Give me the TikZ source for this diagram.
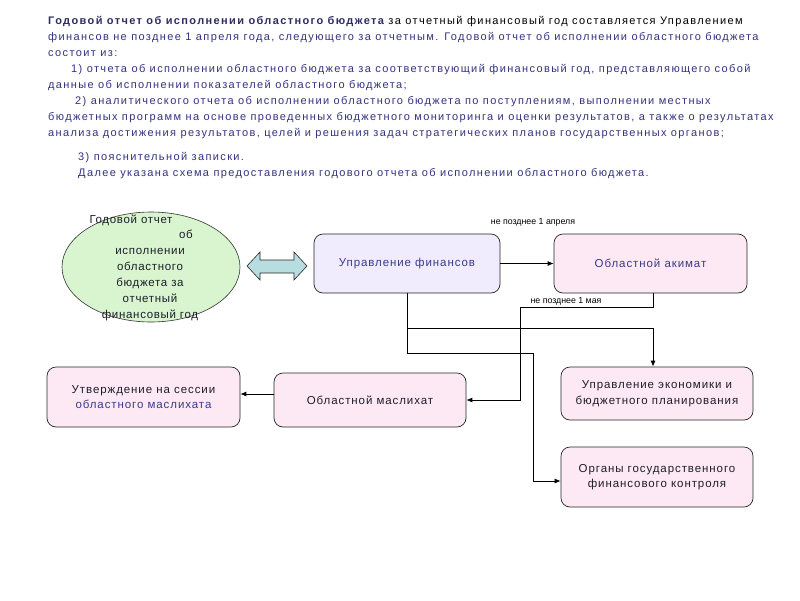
\documentclass[tikz,border=0pt]{standalone}
\usepackage{fontspec}
\setmainfont{Liberation Sans}
\newfontfamily\lsfont[LetterSpace=6]{Liberation Sans}
\newfontfamily\hdrfont[LetterSpace=12.5]{Liberation Sans}
\newfontfamily\boxfont[LetterSpace=8]{Liberation Sans}
\usetikzlibrary{shapes.geometric,arrows.meta}
\definecolor{navy}{RGB}{51,51,130}
\definecolor{navyb}{RGB}{45,45,100}
\definecolor{txtdark}{RGB}{30,30,40}
\definecolor{ellfill}{RGB}{216,245,208}
\definecolor{arrfill}{RGB}{184,221,224}
\definecolor{lav}{RGB}{240,235,253}
\definecolor{pinkf}{RGB}{253,233,243}
\definecolor{boxtxt}{RGB}{58,58,140}
\begin{document}
\begin{tikzpicture}[x=1pt,y=-1pt,
  hdr/.style={anchor=base west, inner sep=0pt, text=navy, font=\hdrfont\fontsize{11}{12}\selectfont},
  box/.style={draw=black!85, line width=0.7pt, rounded corners=9pt, align=center, inner sep=0pt,
    font=\boxfont\fontsize{11.5}{15.5}\selectfont, text=txtdark},
  conn/.style={draw=black, line width=0.8pt},
  arr/.style={conn, -{Latex[length=6pt,width=5pt]}},
  lbl/.style={inner sep=0pt, font=\fontsize{8.8}{10}\selectfont, text=black},
  elltxt/.style={inner sep=0pt, anchor=base, text=txtdark, font=\lsfont\fontsize{11.5}{13}\selectfont}
]
\useasboundingbox (0,0) rectangle (800,600);
\fill[white] (0,0) rectangle (800,600);

% header text
\node[hdr] (h1) at (48,24) {\textbf{\color{navyb}Годовой отчет об исполнении областного бюджета} \color{black}за отчетный финансовый год составляется Управлением};
\node[hdr] (h2) at (48,40) {финансов не позднее 1 апреля года, следующего за отчетным. Годовой отчет об исполнении областного бюджета};
\node[hdr] (h3) at (48,56) {состоит из:};
\node[hdr] (h4) at (71,72) {1) отчета об исполнении областного бюджета за соответствующий финансовый год, представляющего собой};
\node[hdr] (h5) at (48,88) {данные об исполнении показателей областного бюджета;};
\node[hdr] (h6) at (75,104) {2) аналитического отчета об исполнении областного бюджета по поступлениям, выполнении местных};
\node[hdr] (h7) at (48,120) {бюджетных программ на основе проведенных бюджетного мониторинга и оценки результатов, а также о результатах};
\node[hdr] (h8) at (48,136) {анализа достижения результатов, целей и решения задач стратегических планов государственных органов;};
\node[hdr] (h9) at (78,160) {3) пояснительной записки.};
\node[hdr] (h10) at (78,176) {Далее указана схема предоставления годового отчета об исполнении областного бюджета.};

% ellipse
\node[ellipse, draw=black!80, line width=0.6pt, fill=ellfill, minimum width=178pt, minimum height=110pt] (ell) at (151,267) {};
\node[elltxt] (e1) at (131,223) {Годовой отчет};
\node[elltxt] (e2) at (186,238) {об};
\node[elltxt] (e3) at (150,254) {исполнении};
\node[elltxt] (e4) at (150,270) {областного};
\node[elltxt] (e5) at (150,286) {бюджета за};
\node[elltxt] (e6) at (150,302) {отчетный};
\node[elltxt] (e7) at (150,318) {финансовый год};

% double arrow
\draw[draw=black!85, line width=0.6pt, fill=arrfill]
  (247,266) -- (260,252) -- (260,260) -- (294,260) -- (294,252) -- (307,266)
  -- (294,280) -- (294,273) -- (260,273) -- (260,280) -- cycle;

% boxes
\node[box, fill=lav, minimum width=186pt, minimum height=59pt, text=boxtxt] (uf) at (407,263.5) {Управление финансов};
\node[box, fill=pinkf, minimum width=193pt, minimum height=59pt, text=boxtxt] (akim) at (650.5,263.5) {Областной акимат};
\node[box, fill=pinkf, minimum width=193pt, minimum height=60pt] (utv) at (143.5,397) {Утверждение на сессии\\\color{boxtxt}областного маслихата};
\node[box, fill=pinkf, minimum width=192pt, minimum height=54pt] (masl) at (370,400) {Областной маслихат};
\node[box, fill=pinkf, minimum width=192pt, minimum height=53pt] (econ) at (657,393.5) {Управление экономики и\\бюджетного планирования};
\node[box, fill=pinkf, minimum width=192pt, minimum height=60pt] (org) at (657,477) {Органы государственного\\финансового контроля};

% connectors
\draw[arr] (uf.east) -- (akim.west);
\node[lbl] (l1) at (533,222) {не позднее 1 апреля};

\coordinate (j1) at (653,307);
\coordinate (j2) at (520,307);
\draw[arr] (akim.south -| j1) -- (j1) -- (j2) -- (j2 |- masl.east) -- (masl.east);
\node[lbl] (l2) at (566,301) {не позднее 1 мая};

\draw[arr] (masl.west) ++(0,-6) coordinate (m1) (m1) -- (m1 -| utv.east);

\coordinate (b1) at (407,328);
\coordinate (b2) at (407,353);
\coordinate (c1) at (653,328);
\coordinate (c2) at (533,353);
\coordinate (c3) at (533,481);
\draw[conn] (uf.south) -- (b2);
\draw[arr] (b1) -- (c1) -- (c1 |- econ.north);
\draw[arr] (b2) -- (c2) -- (c3) -- (c3 -| org.west);
\end{tikzpicture}
\end{document}
